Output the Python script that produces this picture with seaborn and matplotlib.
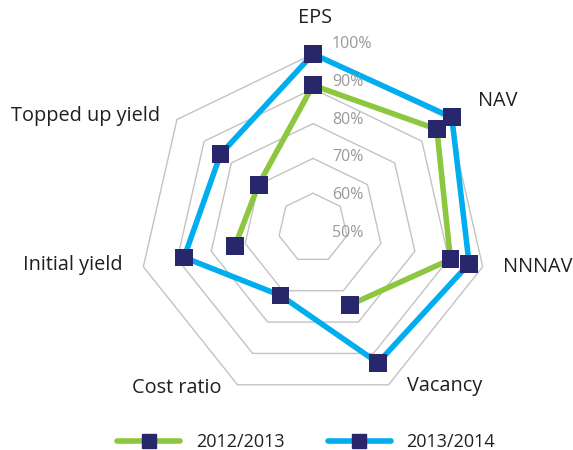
import numpy as np
import pandas as pd
import matplotlib
matplotlib.use("Agg")
import matplotlib.pyplot as plt
import matplotlib.transforms as mtransforms
from matplotlib.lines import Line2D
import seaborn as sns

# data (percent, centre of the web = 50%)
categories = ["EPS", "NAV", "NNNAV", "Vacancy", "Cost ratio", "Initial yield", "Topped up yield"]
series_names = ["2012/2013", "2013/2014"]
values_1213 = [91, 95.5, 90.5, 74.5, np.nan, 73, 70]
values_1314 = [100, 101, 96, 93, 71.5, 88, 84]
ticks = [50, 60, 70, 80, 90, 100]
tick_labels = [f"{t}%" for t in ticks]

colors = {"2012/2013": "#8DC63F", "2013/2014": "#00AEEF"}
marker_color = "#29276B"
text_color = "#231F20"

sns.set_style("white")
plt.rcParams["font.family"] = ["Open Sans", "DejaVu Sans"]

n = len(categories)
angles = np.arange(n) * 2 * np.pi / n

fig = plt.figure(figsize=(5.73, 4.5), dpi=100)
ax = fig.add_axes([0.2304, 0.0911, 0.6318, 0.8044], projection="polar")
ax.set_theta_zero_location("N")
ax.set_theta_direction(-1)
ax.set_ylim(50, 102)
ax.grid(False)
ax.spines["polar"].set_visible(False)
ax.set_xticks([])
ax.set_yticks([])

# heptagon web
closed = np.append(angles, angles[0])
for t in ticks[1:]:
    ax.plot(closed, [t] * (n + 1), color="#C3C3C3", lw=1.0, zorder=1)

# percent labels to the right of the vertical axis
for i, (t, lab) in enumerate(zip(ticks, tick_labels)):
    tr = mtransforms.offset_copy(ax.transData, fig=fig, x=19, y=3 * i - 5, units="dots")
    ax.text(0, t, lab, transform=tr, ha="left", va="center", fontsize=11.5, color="#999999")

df = pd.DataFrame({"angle": np.tile(angles, 2),
                   "value": values_1213 + values_1314,
                   "series": np.repeat(series_names, n)})

for name in series_names:
    sub = df[df["series"] == name]
    r = np.append(sub["value"].values, sub["value"].values[0])
    ax.plot(closed, r, color=colors[name], lw=4.0, zorder=2, clip_on=False)

sns.scatterplot(data=df.dropna(), x="angle", y="value", ax=ax, marker="s", s=165,
                color=marker_color, edgecolor="none", legend=False, zorder=3, clip_on=False)
ax.set_xlabel("")
ax.set_ylabel("")

# category labels (pixel centres in the 573x450 picture)
label_px = [(315, 18), (498, 101), (538, 267), (445, 386), (177, 388), (73, 265), (86, 116)]
for cat, (px, py) in zip(categories, label_px):
    fig.text(px / 573, 1 - py / 450, cat, ha="center", va="center", fontsize=14.3, color=text_color)

handles = [Line2D([0], [0], color=colors[s], lw=4.0, marker="s", markersize=10,
                  markerfacecolor=marker_color, markeredgecolor=marker_color) for s in series_names]
leg = fig.legend(handles, series_names, loc="center", bbox_to_anchor=(0.534, 0.018), ncol=2,
                 frameon=False, fontsize=13, handlelength=3.5, handletextpad=0.85, columnspacing=2.4)
for txt in leg.get_texts():
    txt.set_color(text_color)

fig.savefig("out.png", dpi=100)
